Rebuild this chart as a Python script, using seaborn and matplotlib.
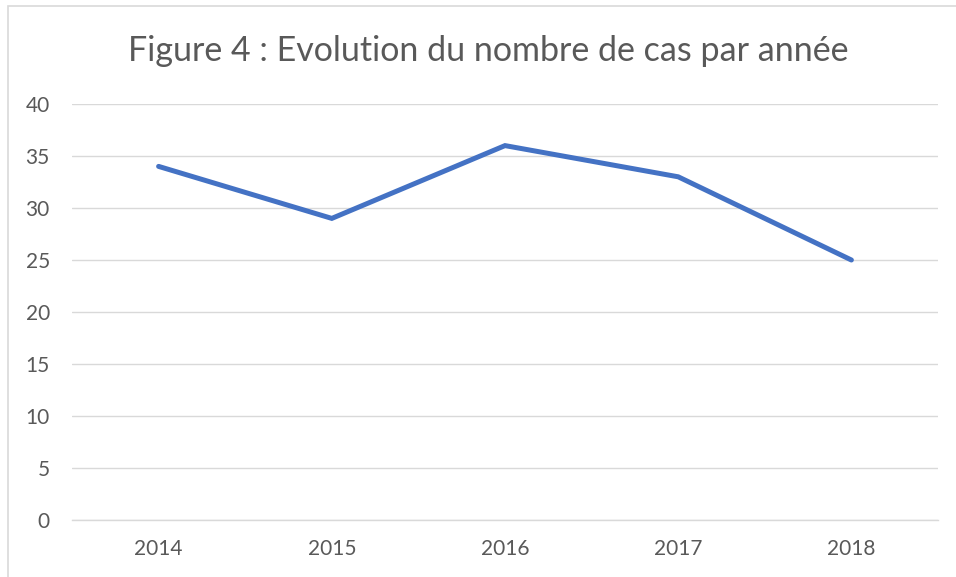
import matplotlib
matplotlib.use("Agg")
import matplotlib.pyplot as plt
import pandas as pd
import seaborn as sns
from matplotlib.patches import Rectangle

# donnees
annees = ["2014", "2015", "2016", "2017", "2018"]
nb_cas = [34, 29, 36, 33, 25]
y_ticks = [0, 5, 10, 15, 20, 25, 30, 35, 40]

df = pd.DataFrame({"pos": range(len(annees)), "cas": nb_cas})

sns.set_style("white")
plt.rcParams["font.family"] = ["Lato", "DejaVu Sans"]

gris_texte = "#595959"

fig = plt.figure(figsize=(9.56, 5.77), dpi=100)
ax = fig.add_axes([72 / 956, 1 - 520 / 577, (938 - 72) / 956, (520 - 104) / 577])

sns.lineplot(data=df, x="pos", y="cas", ax=ax, color="#4472C4",
             linewidth=3.6, solid_capstyle="round", solid_joinstyle="miter")

ax.set_xlim(-0.5, len(annees) - 0.5)
ax.set_ylim(0, 40)
ax.set_xticks(range(len(annees)))
ax.set_xticklabels(annees)
ax.set_yticks(y_ticks)
ax.yaxis.grid(True, color="#D9D9D9", linewidth=1.0)
ax.xaxis.grid(False)
ax.set_axisbelow(True)
for s in ["top", "right", "left"]:
    ax.spines[s].set_visible(False)
ax.spines["bottom"].set_color("#D9D9D9")
ax.spines["bottom"].set_linewidth(1.0)
ax.tick_params(axis="both", length=0, labelsize=15, colors=gris_texte)
ax.tick_params(axis="x", pad=14)
ax.tick_params(axis="y", pad=16)
ax.set_xlabel("")
ax.set_ylabel("")

fig.text(488 / 956, 1 - 51 / 577, "Figure 4 : Evolution du nombre de cas par année",
         ha="center", va="center", fontsize=24.5, color=gris_texte)

# cadre du graphique
fig.patches.append(Rectangle((8 / 956, -0.05), 1.2, 1 - 6 / 577 + 0.05,
                             transform=fig.transFigure, fill=False,
                             edgecolor="#D9D9D9", linewidth=1.2))

fig.savefig("out.png", dpi=100)
